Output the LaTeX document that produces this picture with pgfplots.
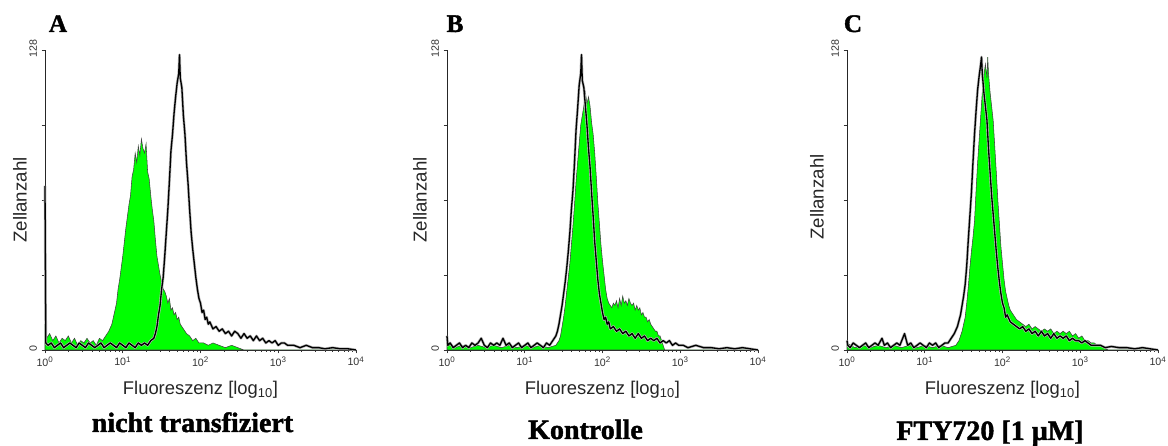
\documentclass[border=0pt]{standalone}
\usepackage{fontspec}
\setmainfont{Liberation Sans}
\newfontfamily\heavy[FakeBold=1.5]{Liberation Serif Bold}
\usepackage{pgfplots}
\pgfplotsset{compat=1.18}

% common look of the three FACS histograms
\pgfplotsset{facs/.style={
  scale only axis, width=233.25pt, height=225pt,
  anchor=south west,
  xmin=0, xmax=4, ymin=0, ymax=128,
  axis x line=bottom, axis y line=left,
  axis line style={-, line width=0.6pt, black!85},
  tick align=outside, tick style={black!80, line width=0.4pt},
  major tick length=2.5pt, minor tick length=1.3pt,
  xtick={0,1,2,3,4},
  xticklabels={10\textsuperscript{0},10\textsuperscript{1},10\textsuperscript{2},10\textsuperscript{3},10\textsuperscript{4}},
  minor xtick={0.301,0.477,0.602,0.699,0.778,0.845,0.903,0.954,
               1.301,1.477,1.602,1.699,1.778,1.845,1.903,1.954,
               2.301,2.477,2.602,2.699,2.778,2.845,2.903,2.954,
               3.301,3.477,3.602,3.699,3.778,3.845,3.903,3.954},
  ytick={0,32,64,96,128}, yticklabels={0,{},{},{},128},
  ticklabel style={font=\fontsize{8}{8}\selectfont, text=black!80},
  xticklabel style={yshift=1pt},
  yticklabel style={rotate=90, anchor=south, xshift=1pt},
  clip=false,
}}
\pgfplotsset{
  fl/.style={fill=green, draw=black!75, line width=0.4pt},
  ln/.style={black, line width=1pt, line join=round, preaction={draw=gray!55, line width=2pt}},
}

\begin{document}
\begin{tikzpicture}[x=0.75pt, y=0.75pt]
\path[use as bounding box] (0,0) rectangle (1168,446);

% ---------------- A ----------------
\begin{axis}[facs, at={(33.75pt,72pt)}]
\addplot[fl] table {
0.00 11
0.02 5
0.06 7
0.10 4
0.14 6
0.18 3
0.22 5
0.26 4
0.30 6
0.34 3
0.38 5
0.42 2
0.46 4
0.50 3
0.54 5
0.58 3
0.62 4
0.66 2
0.70 5
0.74 4
0.78 6
0.82 8
0.86 11
0.88 14
0.90 17
0.92 20
0.94 26
0.96 30
0.98 35
1.00 40
1.02 46
1.04 52
1.06 57
1.08 62
1.10 66
1.12 74
1.14 77
1.16 84
1.18 80
1.20 87
1.22 83
1.24 90
1.26 86
1.28 84
1.30 88
1.32 76
1.34 73
1.36 66
1.38 60
1.40 55
1.42 47
1.44 40
1.46 36
1.48 32
1.50 29
1.52 26
1.54 25
1.56 23
1.58 20
1.60 22
1.62 17
1.64 18
1.66 15
1.68 16
1.70 13
1.72 14
1.74 11
1.78 9
1.82 7
1.86 6
1.90 4
1.94 5
1.98 3
2.04 3
2.10 2
2.16 3
2.24 2
2.32 1
2.40 2
2.48 1
2.56 0
4.00 0
} \closedcycle;
\addplot[ln] table {
0.00 70
0.01 3
0.04 2
0.08 3
0.12 1
0.16 2
0.20 3
0.24 1
0.28 2
0.32 3
0.36 2
0.40 1
0.44 3
0.48 2
0.52 1
0.56 3
0.60 2
0.64 1
0.68 2
0.72 3
0.76 1
0.80 2
0.84 3
0.88 2
0.92 1
0.96 3
1.00 2
1.04 1
1.08 3
1.12 2
1.16 1
1.20 3
1.24 2
1.28 3
1.32 2
1.36 4
1.40 5
1.42 7
1.44 10
1.46 15
1.48 19
1.50 26
1.52 31
1.54 40
1.56 50
1.58 60
1.60 72
1.62 85
1.64 92
1.66 101
1.68 108
1.70 114
1.72 118
1.73 126
1.74 116
1.76 112
1.78 100
1.80 92
1.82 80
1.84 71
1.86 60
1.88 50
1.90 43
1.92 37
1.94 31
1.96 26
1.98 22
2.00 20
2.02 16
2.04 17
2.06 13
2.08 14
2.10 11
2.12 12
2.16 9
2.20 10
2.24 8
2.28 9
2.32 7
2.36 8
2.40 6
2.44 8
2.48 7
2.52 5
2.56 7
2.60 5
2.64 6
2.68 4
2.72 6
2.76 4
2.80 5
2.84 3
2.88 4
2.92 3
2.96 4
3.00 2
3.04 3
3.08 3
3.12 2
3.20 2
3.28 1
3.36 2
3.44 1
3.52 1
3.60 0.5
3.70 1
3.80 0.5
3.90 0.5
4.00 0
};
\end{axis}

% ---------------- B ----------------
\begin{axis}[facs, at={(335.25pt,72pt)}]
\addplot[fl] table {
0.00 3
0.04 2
0.10 1
0.20 2
0.30 1
0.40 2
0.50 1
0.60 2
0.70 1
0.80 2
0.90 1
1.00 2
1.10 1
1.20 2
1.30 1
1.40 2
1.44 4
1.46 6
1.48 10
1.50 14
1.52 19
1.54 25
1.56 31
1.58 37
1.60 45
1.62 53
1.64 62
1.66 72
1.68 80
1.70 88
1.72 96
1.74 100
1.76 104
1.78 110
1.80 105
1.82 108
1.84 104
1.86 97
1.88 92
1.90 84
1.92 74
1.94 63
1.96 54
1.98 45
2.00 38
2.02 32
2.04 26
2.06 22
2.08 20
2.10 19
2.12 18
2.14 20
2.16 19
2.18 21
2.20 18
2.22 22
2.24 19
2.26 23
2.28 20
2.30 21
2.32 19
2.34 22
2.36 20
2.38 19
2.40 20
2.42 17
2.44 19
2.46 17
2.48 18
2.50 15
2.52 16
2.54 14
2.56 14
2.58 12
2.60 13
2.62 11
2.64 10
2.66 9
2.68 8
2.70 8
2.72 6
2.74 6
2.76 4
2.78 2
2.80 0
4.00 0
} \closedcycle;
\addplot[ln] table {
0.00 6
0.01 2
0.04 3
0.08 1
0.12 2
0.16 3
0.20 1
0.24 2
0.28 1
0.32 3
0.36 2
0.40 3
0.44 5
0.48 2
0.52 1
0.56 3
0.60 2
0.64 3
0.68 2
0.72 5
0.76 2
0.80 3
0.84 1
0.88 2
0.92 3
0.96 1
1.00 2
1.04 3
1.08 1
1.12 2
1.16 3
1.20 2
1.24 1
1.28 3
1.32 2
1.36 4
1.40 6
1.42 8
1.44 11
1.46 15
1.48 19
1.50 24
1.52 29
1.54 35
1.56 42
1.58 50
1.60 60
1.62 68
1.64 80
1.66 94
1.68 103
1.70 113
1.72 118
1.73 126
1.74 115
1.76 112
1.78 104
1.80 96
1.82 86
1.84 78
1.86 67
1.88 57
1.90 46
1.92 38
1.94 30
1.96 24
1.98 20
2.00 16
2.02 13
2.04 14
2.06 11
2.08 12
2.10 9
2.14 10
2.18 8
2.22 9
2.26 7
2.30 8
2.34 6
2.38 7
2.42 5
2.46 7
2.50 5
2.54 6
2.58 4
2.62 5
2.66 4
2.70 5
2.74 3
2.78 4
2.82 3
2.86 4
2.90 2
2.94 3
2.98 2
3.04 2
3.10 1
3.20 2
3.30 1
3.40 1
3.50 0.5
3.60 1
3.70 0.5
3.80 1
3.90 0.5
4.00 0
};
\end{axis}

% ---------------- C ----------------
\begin{axis}[facs, at={(635.25pt,72pt)}]
\addplot[fl] table {
0.00 3
0.10 1
0.20 2
0.30 1
0.40 2
0.50 1
0.60 2
0.70 1
0.80 2
0.90 1
1.00 2
1.10 1
1.20 2
1.30 1
1.40 2
1.44 4
1.48 8
1.50 11
1.52 14
1.54 20
1.56 27
1.58 35
1.60 42
1.62 48
1.64 55
1.66 68
1.68 80
1.70 90
1.72 100
1.74 110
1.76 117
1.78 122
1.80 116
1.81 125
1.82 118
1.84 110
1.86 104
1.88 98
1.90 87
1.92 76
1.94 64
1.96 54
1.98 44
2.00 37
2.02 30
2.04 25
2.06 22
2.08 19
2.10 17
2.14 15
2.18 13
2.22 12
2.26 11
2.30 10
2.34 11
2.38 9
2.42 10
2.46 9
2.50 8
2.54 9
2.58 8
2.62 9
2.66 7
2.70 8
2.74 7
2.78 8
2.82 7
2.86 8
2.90 6
2.94 7
2.98 5
3.02 6
3.06 4
3.10 4
3.14 3
3.18 3
3.22 2
3.26 2
3.30 1
3.36 0
4.00 0
} \closedcycle;
\addplot[ln] table {
0.00 4
0.01 2
0.04 1
0.08 3
0.12 2
0.16 1
0.20 2
0.24 3
0.28 1
0.32 2
0.36 3
0.40 2
0.45 5
0.48 2
0.52 3
0.56 1
0.60 2
0.64 3
0.68 2
0.74 7
0.78 2
0.82 3
0.86 1
0.90 2
0.94 3
0.98 2
1.02 1
1.06 3
1.10 2
1.14 3
1.18 1
1.22 2
1.26 3
1.30 3
1.34 5
1.38 7
1.42 10
1.46 15
1.50 23
1.52 28
1.54 36
1.56 47
1.58 57
1.60 67
1.62 80
1.64 92
1.66 102
1.68 111
1.70 117
1.72 122
1.73 125
1.74 118
1.76 110
1.78 104
1.80 98
1.82 86
1.84 76
1.86 66
1.88 58
1.90 50
1.92 42
1.94 35
1.96 29
1.98 24
2.00 20
2.02 18
2.04 14
2.06 15
2.10 12
2.14 11
2.18 10
2.22 9
2.26 10
2.30 8
2.34 9
2.38 7
2.42 8
2.46 6
2.50 8
2.54 6
2.58 7
2.62 5
2.66 7
2.70 5
2.74 6
2.78 5
2.82 6
2.86 4
2.90 5
2.94 4
2.98 4
3.02 3
3.06 4
3.10 3
3.14 2
3.20 2
3.26 2
3.32 1
3.40 1.5
3.50 1
3.60 1
3.70 0.5
3.80 1
3.90 0.5
4.00 0
};
\end{axis}

% labels (y measured from the bottom of the picture)
\foreach \cx/\lx/\ly/\pl/\plx in {200.5/20/246/A/58, 602.5/420/246/B/455, 1002.5/817/249/C/853}{
  \node[anchor=base, font=\fontsize{13.8}{14}\selectfont, text=black!85] at (\cx,51) {Fluoreszenz [log\textsubscript{10}]};
  \node[rotate=90, font=\fontsize{14}{14}\selectfont, text=black!85] at (\lx,\ly) {Zellanzahl};
  \node[anchor=base, font=\heavy\fontsize{19}{19}\selectfont] at (\plx,414) {\pl};
}
\node[anchor=base, font=\heavy\fontsize{21}{21}\selectfont] at (192.5,14) {nicht transfiziert};
\node[anchor=base, font=\heavy\fontsize{21}{21}\selectfont] at (585.5,7) {Kontrolle};
\node[anchor=base, font=\heavy\fontsize{21}{21}\selectfont] at (990,6) {FTY720 [1 µM]};
\end{tikzpicture}
\end{document}
